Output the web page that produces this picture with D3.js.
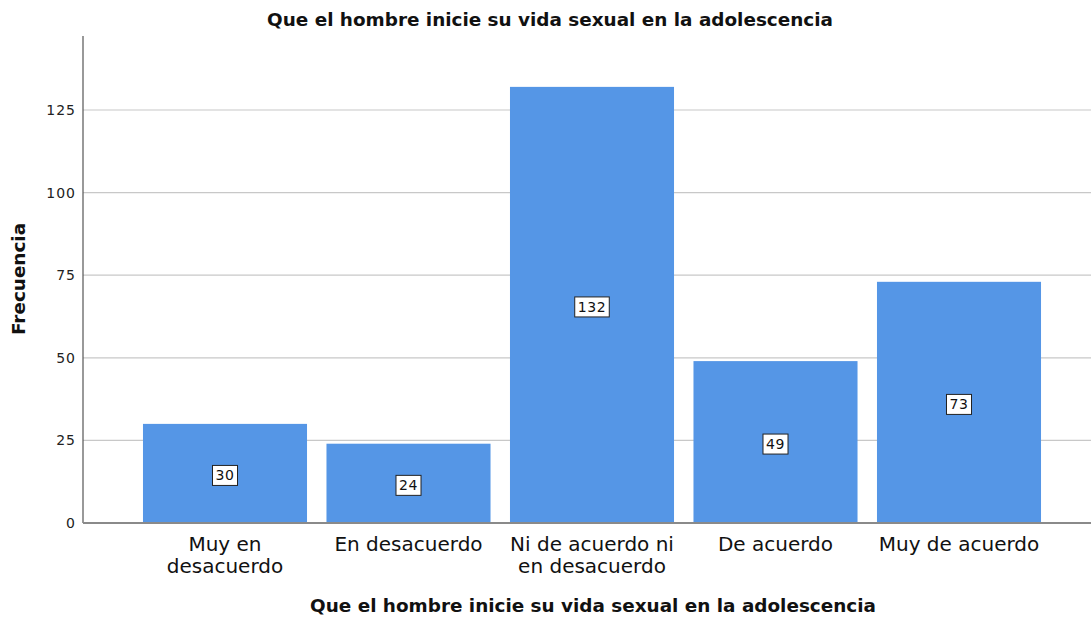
<!DOCTYPE html>
<html><head><meta charset="utf-8">
<script src="https://cdn.jsdelivr.net/npm/d3@7/dist/d3.min.js"></script>
<style>body{margin:0;background:#fff}</style>
</head><body>
<svg id="c" width="1091" height="620"></svg>
<script>
const categories = [["Muy en","desacuerdo"],["En desacuerdo"],["Ni de acuerdo ni","en desacuerdo"],["De acuerdo"],["Muy de acuerdo"]];
const values = [30, 24, 132, 49, 73];
const yTicks = [0, 25, 50, 75, 100, 125];
const title = "Que el hombre inicie su vida sexual en la adolescencia";
const xTitle = "Que el hombre inicie su vida sexual en la adolescencia";
const yTitle = "Frecuencia";

const svg = d3.select("#c");
const font = "'DejaVu Sans', sans-serif";
const x0 = 83, x1 = 1091, yBase = 523, yTop = 36;
const y = d3.scaleLinear().domain([0, 147.4]).range([yBase, yTop]);
const keys = categories.map((c,i)=>i);
const x = d3.scaleBand().domain(keys).range([133.25, 1050.75]).paddingInner(0.106).paddingOuter(0.053);

// gridlines
svg.append("g").selectAll("line").data(yTicks.filter(t=>t>0)).join("line")
  .attr("x1", x0).attr("x2", x1).attr("y1", d=>y(d)).attr("y2", d=>y(d))
  .attr("stroke", "#c8c8c8").attr("stroke-width", 1.2);

// y axis
const yAxis = d3.axisLeft(y).tickValues(yTicks).tickSize(0).tickPadding(7);
const gy = svg.append("g").attr("transform", `translate(${x0},0)`).call(yAxis);
gy.select(".domain").remove();
gy.selectAll("text").attr("font-family", font).attr("font-size", 14).attr("letter-spacing", 1).attr("fill", "#222");
svg.append("line").attr("x1", x0).attr("x2", x0).attr("y1", yTop).attr("y2", yBase)
  .attr("stroke", "#555").attr("stroke-width", 1.2);

// bars
svg.append("g").selectAll("rect").data(values).join("rect")
  .attr("x", (d,i)=>x(i)).attr("width", x.bandwidth())
  .attr("y", d=>y(d)).attr("height", d=>yBase - y(d))
  .attr("fill", "#5596e6");

// baseline
svg.append("line").attr("x1", x0).attr("x2", x1).attr("y1", yBase).attr("y2", yBase)
  .attr("stroke", "#8a8a8a").attr("stroke-width", 2);

// value labels
const lg = svg.append("g").selectAll("g").data(values).join("g")
  .attr("transform", (d,i)=>`translate(${x(i)+x.bandwidth()/2},${(y(d)+yBase)/2 + 2})`);
lg.each(function(d){
  const g = d3.select(this);
  const t = g.append("text").text(d).attr("font-family", font).attr("font-size", 14)
    .attr("letter-spacing", 0.6).attr("text-anchor", "middle").attr("dy", "0.36em").attr("fill", "#111");
  const w = t.node().getComputedTextLength();
  g.insert("rect", "text").attr("x", -w/2-3).attr("y", -10).attr("width", w+6).attr("height", 20)
    .attr("fill", "#fff").attr("stroke", "#222").attr("stroke-width", 1);
});

// category labels
const cg = svg.append("g").selectAll("text").data(categories).join("text")
  .attr("x", (d,i)=>x(i)+x.bandwidth()/2).attr("y", 551)
  .attr("text-anchor", "middle").attr("font-family", font).attr("font-size", 20).attr("fill", "#111");
cg.each(function(d){
  d3.select(this).selectAll("tspan").data(d).join("tspan")
    .attr("x", d3.select(this).attr("x")).attr("dy", (l,j)=>j===0?0:22).text(l=>l);
});

// titles
svg.append("text").attr("x", 550).attr("y", 26).attr("text-anchor", "middle")
  .attr("font-family", font).attr("font-weight", "bold").attr("font-size", 18.4).attr("fill", "#111").text(title);
svg.append("text").attr("x", 593).attr("y", 612).attr("text-anchor", "middle")
  .attr("font-family", font).attr("font-weight", "bold").attr("font-size", 18.4).attr("fill", "#111").text(xTitle);
svg.append("text").attr("transform", "translate(25,279) rotate(-90)").attr("text-anchor", "middle")
  .attr("font-family", font).attr("font-weight", "bold").attr("font-size", 18.4).attr("fill", "#111").text(yTitle);
</script>
</body></html>
